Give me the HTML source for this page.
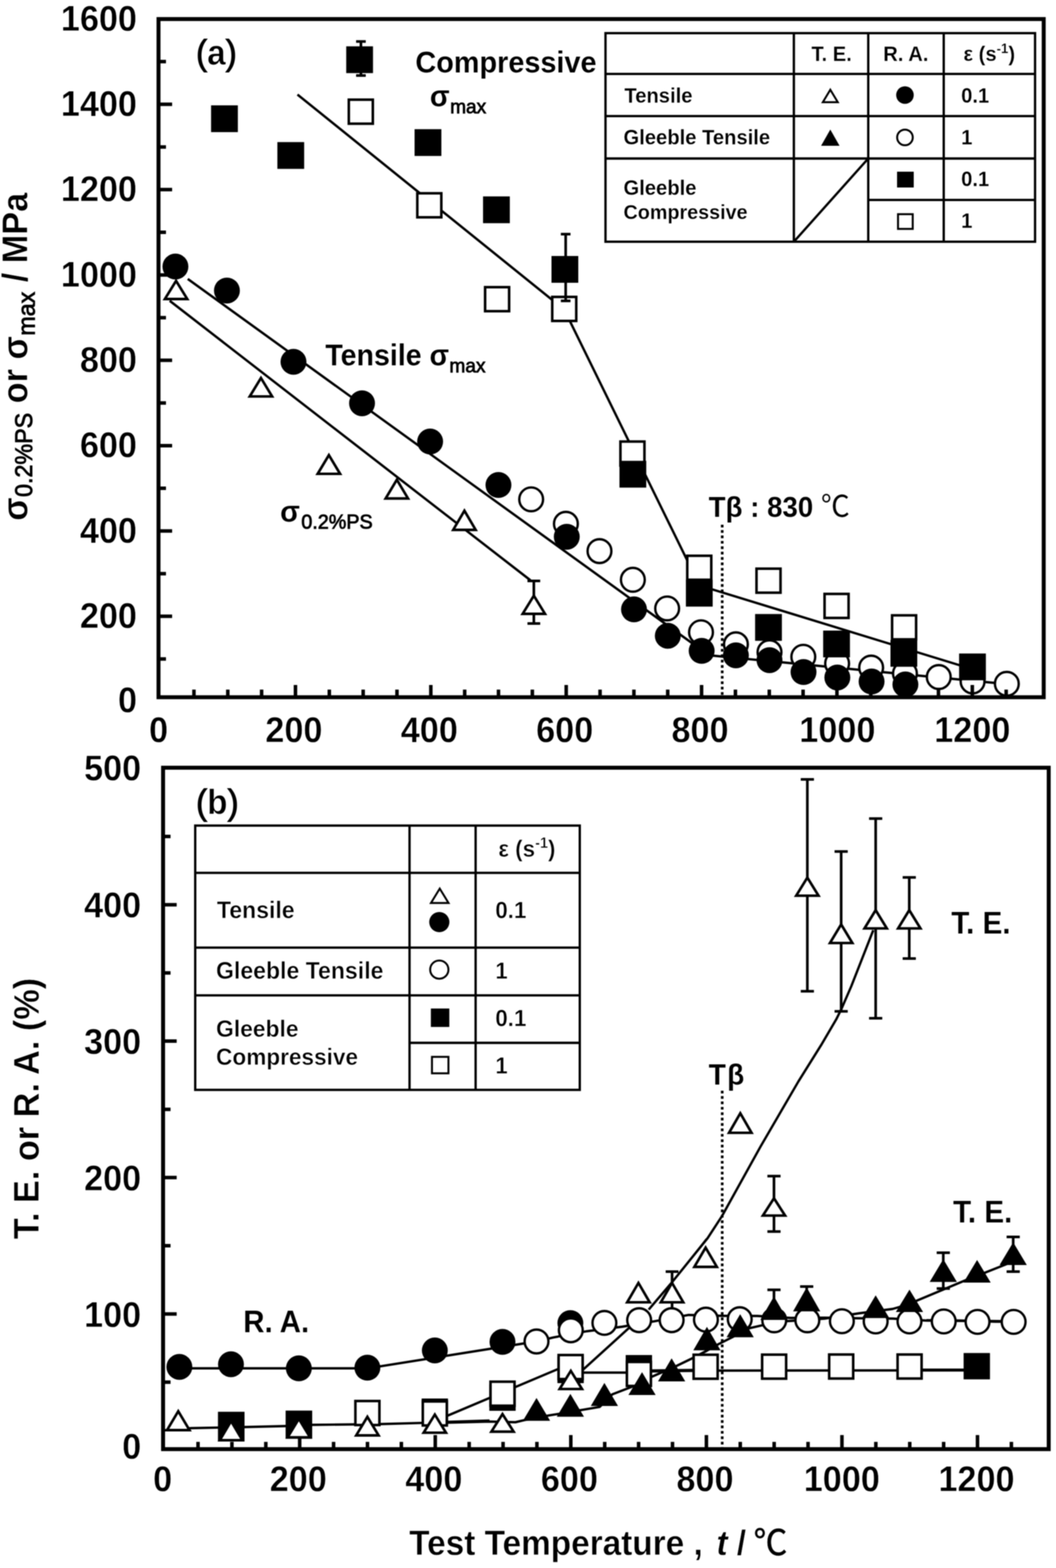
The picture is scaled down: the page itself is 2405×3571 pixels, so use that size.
<!DOCTYPE html>
<html lang="en"><head><meta charset="utf-8"><title>Figure</title>
<style>
html,body{margin:0;padding:0;background:#fff;}
body{width:2405px;height:3571px;overflow:hidden;}
svg{display:block;filter:blur(0.9px);}
svg text{font-family:"Liberation Sans", "Noto Sans CJK JP", sans-serif;font-weight:bold;fill:#000;stroke:#fff;stroke-width:0.8px;}
svg text.t{stroke-width:0.4px;}
svg text.u{stroke-width:0.8px;}
svg text.m{stroke-width:0.2px;}
svg text.r{font-weight:normal;stroke:#000;stroke-width:1.8px;}
svg tspan.bb{font-weight:bold;stroke:#fff;stroke-width:1.2px;}
svg tspan.s{font-weight:normal;stroke:#000;stroke-width:1.6px;}
svg tspan.c{stroke:#000;stroke-width:0.9px;}
svg .l{fill:none;stroke:#000;stroke-linejoin:round;}
svg .o{fill:#fff;stroke:#000;}
</style></head><body>
<svg width="2405" height="3571" viewBox="0 0 2405 3571">
<rect width="2405" height="3571" fill="#fff"/>

<g id="plot-a">
<polyline class="l" points="677.5,215.3 1285,705" stroke-width="5.4"/>
<polyline class="l" points="1285,705 1592,1331" stroke-width="5.4"/>
<polyline class="l" points="1592,1333 2214.8,1524" stroke-width="5.4"/>
<polyline class="l" points="427.6,635.2 1596,1479" stroke-width="5.4"/>
<polyline class="l" points="1596,1490.5 2293,1558" stroke-width="5.4"/>
<polyline class="l" points="386.5,685 1208,1321.5" stroke-width="5.4"/>
<line class="l" x1="1644.8" y1="1195" x2="1644.8" y2="1587.9" stroke-width="6" stroke-dasharray="6.2 6.1"/>
<text transform="translate(312 1621.5) scale(1 1.04)" font-size="78" text-anchor="end">0</text>
<text transform="translate(312 1430.1) scale(1 1.04)" font-size="78" text-anchor="end">200</text>
<text transform="translate(312 1235.8) scale(1 1.04)" font-size="78" text-anchor="end">400</text>
<text transform="translate(312 1041.4) scale(1 1.04)" font-size="78" text-anchor="end">600</text>
<text transform="translate(312 847.1) scale(1 1.04)" font-size="78" text-anchor="end">800</text>
<text transform="translate(312 652.7) scale(1 1.04)" font-size="78" text-anchor="end">1000</text>
<text transform="translate(312 458.3) scale(1 1.04)" font-size="78" text-anchor="end">1200</text>
<text transform="translate(312 264) scale(1 1.04)" font-size="78" text-anchor="end">1400</text>
<text transform="translate(312 69.6) scale(1 1.04)" font-size="78" text-anchor="end">1600</text>
<text transform="translate(361.1 1690) scale(1 1.04)" font-size="78" text-anchor="middle">0</text>
<text transform="translate(669.4 1690) scale(1 1.04)" font-size="78" text-anchor="middle">200</text>
<text transform="translate(977.7 1690) scale(1 1.04)" font-size="78" text-anchor="middle">400</text>
<text transform="translate(1286 1690) scale(1 1.04)" font-size="78" text-anchor="middle">600</text>
<text transform="translate(1594.3 1690) scale(1 1.04)" font-size="78" text-anchor="middle">800</text>
<text transform="translate(1907.1 1690) scale(1 1.04)" font-size="78" text-anchor="middle">1000</text>
<text transform="translate(2214.4 1690) scale(1 1.04)" font-size="78" text-anchor="middle">1200</text>
<path class="l" d="M1215.8 1323V1420M1201.3 1323h29M1201.3 1420h29" stroke-width="6"/>
<circle class="o" cx="1209.7" cy="1137.2" r="27.1" stroke-width="5.4"/>
<circle class="o" cx="1288.8" cy="1192.9" r="27.1" stroke-width="5.4"/>
<circle class="o" cx="1365.3" cy="1255.1" r="27.1" stroke-width="5.4"/>
<circle class="o" cx="1441.3" cy="1320.4" r="27.1" stroke-width="5.4"/>
<circle class="o" cx="1519.4" cy="1385.7" r="27.1" stroke-width="5.4"/>
<circle class="o" cx="1596.5" cy="1440" r="27.1" stroke-width="5.4"/>
<circle class="o" cx="1676" cy="1467.4" r="27.1" stroke-width="5.4"/>
<circle class="o" cx="1752.5" cy="1485.4" r="27.1" stroke-width="5.4"/>
<circle class="o" cx="1829.5" cy="1495.7" r="27.1" stroke-width="5.4"/>
<circle class="o" cx="1906.5" cy="1511.1" r="27.1" stroke-width="5.4"/>
<circle class="o" cx="1984" cy="1520.3" r="27.1" stroke-width="5.4"/>
<circle class="o" cx="2061" cy="1534" r="27.1" stroke-width="5.4"/>
<circle class="o" cx="2138" cy="1541.9" r="27.1" stroke-width="5.4"/>
<circle class="o" cx="2215" cy="1552" r="27.1" stroke-width="5.4"/>
<circle class="o" cx="2293" cy="1557.3" r="27.1" stroke-width="5.4"/>
<rect class="o" x="794.4" y="227" width="54.7" height="54.7" stroke-width="5.8"/>
<rect class="o" x="950.4" y="440.2" width="54.7" height="54.7" stroke-width="5.8"/>
<rect class="o" x="1104.8" y="654" width="54.7" height="54.7" stroke-width="5.8"/>
<rect class="o" x="1257.7" y="676.2" width="54.7" height="54.7" stroke-width="5.8"/>
<rect class="o" x="1413" y="1005.6" width="54.7" height="54.7" stroke-width="5.8"/>
<rect class="o" x="1565.2" y="1265.7" width="54.7" height="54.7" stroke-width="5.8"/>
<rect class="o" x="1722.9" y="1295.1" width="54.7" height="54.7" stroke-width="5.8"/>
<rect class="o" x="1877.9" y="1352.6" width="54.7" height="54.7" stroke-width="5.8"/>
<rect class="o" x="2031.7" y="1401.4" width="54.7" height="54.7" stroke-width="5.8"/>
<path class="l" d="M822 94.4V172M811 94.4h22M811 172h22" stroke-width="6"/>
<path class="l" d="M1288.3 533.2V685.2M1277.3 533.2h22M1277.3 685.2h22" stroke-width="6"/>
<rect x="480.7" y="239.9" width="61" height="61"/>
<rect x="631.7" y="323.6" width="61" height="61"/>
<rect x="788.5" y="105.5" width="61" height="61"/>
<rect x="944.2" y="294.2" width="61" height="61"/>
<rect x="1100.1" y="447.3" width="61" height="61"/>
<rect x="1256" y="583" width="61" height="61"/>
<rect x="1410.8" y="1049.5" width="61" height="61"/>
<rect x="1562.1" y="1320.5" width="61" height="61"/>
<rect x="1719.7" y="1398.4" width="61" height="61"/>
<rect x="1874.7" y="1436.1" width="61" height="61"/>
<rect x="2028" y="1457.5" width="61" height="61"/>
<rect x="2184.3" y="1488.3" width="61" height="61"/>
<circle cx="399.5" cy="607.1" r="29.5"/>
<circle cx="516.8" cy="661.7" r="29.5"/>
<circle cx="668.4" cy="824" r="29.5"/>
<circle cx="824.5" cy="918.4" r="29.5"/>
<circle cx="979.6" cy="1005.6" r="29.5"/>
<circle cx="1135.2" cy="1104.6" r="29.5"/>
<circle cx="1290.8" cy="1222.4" r="29.5"/>
<circle cx="1443.9" cy="1387.8" r="29.5"/>
<circle cx="1520.9" cy="1448" r="29.5"/>
<circle cx="1598" cy="1482.3" r="29.5"/>
<circle cx="1676" cy="1492.5" r="29.5"/>
<circle cx="1752.5" cy="1503.4" r="29.5"/>
<circle cx="1830" cy="1530.6" r="29.5"/>
<circle cx="1907" cy="1542.9" r="29.5"/>
<circle cx="1985" cy="1552.1" r="29.5"/>
<circle cx="2062" cy="1558.8" r="29.5"/>
<path d="M401 634L431.8 684H370.2Z"/><path fill="#fff" d="M401 645.3L421.2 678.1H380.8Z"/>
<path d="M594.3 855.2L625 905.8H563.5Z"/><path fill="#fff" d="M594.3 866.6L614.6 899.9H574Z"/>
<path d="M749 1030.7L779.8 1082.1H718.2Z"/><path fill="#fff" d="M749 1042.2L769.3 1076.2H728.7Z"/>
<path d="M903.8 1086.8L934.5 1138.2H873Z"/><path fill="#fff" d="M903.8 1098.3L924.1 1132.3H883.5Z"/>
<path d="M1057.7 1157.2L1088.5 1209.7H1027Z"/><path fill="#fff" d="M1057.7 1168.9L1078.2 1203.8H1037.2Z"/>
<path d="M1215.8 1351.1L1246.5 1401H1185Z"/><path fill="#fff" d="M1215.8 1362.3L1236 1395.1H1195.6Z"/>
<rect class="l" x="361" y="43.4" width="2016" height="1544.5" stroke-width="9" style="stroke-linejoin:miter"/>
<path class="l" d="M441.7 1587.9v-17.5M518.8 1587.9v-17.5M595.8 1587.9v-17.5M672.9 1587.9v-28M750 1587.9v-17.5M827.1 1587.9v-17.5M904.1 1587.9v-17.5M981.2 1587.9v-28M1058.3 1587.9v-17.5M1135.3 1587.9v-17.5M1212.4 1587.9v-17.5M1289.5 1587.9v-28M1366.6 1587.9v-17.5M1443.7 1587.9v-17.5M1520.7 1587.9v-17.5M1597.8 1587.9v-28M1674.9 1587.9v-17.5M1752 1587.9v-17.5M1829 1587.9v-17.5M1906.1 1587.9v-28M1983.2 1587.9v-17.5M2060.2 1587.9v-17.5M2137.3 1587.9v-17.5M2214.4 1587.9v-28M2291.5 1587.9v-17.5M361 1500.8h17M361 1403.6h31M361 1306.5h17M361 1209.3h31M361 1112.1h17M361 1014.9h31M361 917.7h17M361 820.6h31M361 723.4h17M361 626.2h31M361 529h17M361 431.8h31M361 334.7h17M361 237.5h31M361 140.3h17" stroke-width="8"/>
<text transform="translate(446.5 147) scale(1 1.04)" font-size="76" class="r">(<tspan class="bb">a</tspan>)</text>
<text transform="translate(946 165) scale(1 1.04)" font-size="65.7" class="m">Compressive</text>
<text transform="translate(979 242) scale(1 1.04)" font-size="66" class="m">σ<tspan class="s" font-size="43.5" dy="15" dx="1">max</tspan></text>
<text transform="translate(741 832) scale(1 1.04)" font-size="65" class="m">Tensile σ<tspan class="s" font-size="43.5" dy="15" dx="1">max</tspan></text>
<text transform="translate(638 1188) scale(1 1.04)" font-size="66" class="m">σ<tspan class="s" font-size="45" dy="15" dx="3">0.2%PS</tspan></text>
<text transform="translate(1614 1177) scale(1 1.04)" font-size="63" class="m">Tβ : 830 <tspan font-weight="normal" font-size="66">℃</tspan></text>
<text transform="translate(62 1186) rotate(-90) scale(1 1.04)" font-size="78">σ<tspan class="s" font-size="53" dy="11" dx="1">0.2%PS</tspan><tspan dy="-11"> or σ</tspan><tspan class="s" font-size="53" dy="16" dx="1">max</tspan><tspan dy="-16"> / MPa</tspan></text>
<rect class="o" x="1379" y="75.5" width="978.3" height="475" stroke-width="5.3"/>
<path class="l" d="M1379 168.4H2357.3M1379 264.4H2357.3M1379 361H2357.3M1977.4 455.4H2357.3M1808 75.5V550.5M1977.4 75.5V550.5M2149.3 75.5V550.5M1808 550.5L1977.4 361" stroke-width="5.3"/>
<text transform="translate(1422 233.5) scale(1 1.04)" font-size="46" class="t">Tensile</text>
<text transform="translate(1420 329) scale(1 1.04)" font-size="46" class="t">Gleeble Tensile</text>
<text transform="translate(1420 444) scale(1 1.04)" font-size="46" class="t">Gleeble</text>
<text transform="translate(1420 499) scale(1 1.04)" font-size="45" class="t">Compressive</text>
<text transform="translate(1894 138.5) scale(1 1.04)" font-size="46" text-anchor="middle" class="t">T. E.</text>
<text transform="translate(2063 138.5) scale(1 1.04)" font-size="46" text-anchor="middle" class="t">R. A.</text>
<text transform="translate(2253 138.5) scale(1 1.04)" font-size="46" text-anchor="middle" class="t">ε (s<tspan font-size="30" dy="-17">-1</tspan><tspan dy="17">)</tspan></text>
<text transform="translate(2189 233.5) scale(1 1.04)" font-size="46" class="t">0.1</text>
<text transform="translate(2189 329) scale(1 1.04)" font-size="46" class="t">1</text>
<text transform="translate(2189 424) scale(1 1.04)" font-size="46" class="t">0.1</text>
<text transform="translate(2189 519) scale(1 1.04)" font-size="46" class="t">1</text>
<path d="M1891 200L1912 235H1870Z"/><path fill="#fff" d="M1891 208.7L1904.1 230.5H1877.9Z"/>
<circle cx="2061" cy="216.5" r="20"/>
<path d="M1891 295L1912 332H1870Z"/>
<circle class="o" cx="2061" cy="313" r="17.8" stroke-width="4.5"/>
<rect x="2043" y="391" width="38" height="36"/>
<rect class="o" x="2045.2" y="487.8" width="33.5" height="33.5" stroke-width="4.5"/>
</g>
<g id="plot-b">
<polyline class="l" points="409,3116.3 836.7,3116.3 1221.9,3055 1260.6,3045.8 1337.1,3031.7 1416.8,3021.5 1491.8,3008.8 1568.3,2994.7 1646.4,2996.7 1725,2997 1801,3001.5 1878,3001 1956,3002.3 2033,3003 2110,3007.5 2188,3007.5 2267,3010 2308,3010" stroke-width="5.4"/>
<polyline class="l" points="371,3257.5 406,3256 435,3252.5 557,3250 651,3247.7 711,3245 865.5,3243.2 960.2,3240.6 1019.2,3240 1114.8,3237.5 1173.8,3239 1194.5,3234.2 1251,3223.4 1271.7,3220.2 1299,3215.4 1327.6,3210.6 1365.8,3204.2 1394.5,3175.5 1436,3159.6 1462,3148 1483.8,3135.7 1506.1,3126.1 1530,3116 1579.5,3092 1610,3076 1636,3061.3 1668.2,3045.2 1700.4,3026.4 1735.2,3018.4 1763,3010 1801,3008.2 1878,3003 1956,2991 2033,2981 2071,2970 2087.7,2962.3 2198.1,2916.1 2225,2905 2244.3,2898.1 2282.8,2882.7 2307,2873" stroke-width="5.4"/>
<polyline class="l" points="1019.2,3237.5 1114.8,3234.5" stroke-width="4"/>
<polyline class="l" points="990,3236.5 1300,3105.5" stroke-width="5.4"/>
<polyline class="l" points="1300,3126 1455,3126 1484,3123 1607,3121.5 2224,3120.7" stroke-width="5.4"/>
<polyline class="l" points="1484,3122 1607,3120.5" stroke-width="7"/>
<polyline class="l" points="2071,3120 2224,3120" stroke-width="6.5"/>
<polyline class="l" points="2110,3007 2308,3009.5" stroke-width="6"/>
<polyline class="l" points="1300,3145 1329.1,3118.2 1432.8,3024.1 1455,3004" stroke-width="5.4"/>
<line class="l" x1="1644.8" y1="2484" x2="1644.8" y2="3300.3" stroke-width="6" stroke-dasharray="6.2 6.1"/>
<text transform="translate(321.5 3322.2) scale(1 1.04)" font-size="78" text-anchor="end">0</text>
<text transform="translate(321.5 3021.5) scale(1 1.04)" font-size="78" text-anchor="end">100</text>
<text transform="translate(321.5 2710.8) scale(1 1.04)" font-size="78" text-anchor="end">200</text>
<text transform="translate(321.5 2400.1) scale(1 1.04)" font-size="78" text-anchor="end">300</text>
<text transform="translate(321.5 2089.4) scale(1 1.04)" font-size="78" text-anchor="end">400</text>
<text transform="translate(321.5 1776.7) scale(1 1.04)" font-size="78" text-anchor="end">500</text>
<text transform="translate(370.5 3396) scale(1 1.04)" font-size="78" text-anchor="middle">0</text>
<text transform="translate(679.2 3396) scale(1 1.04)" font-size="78" text-anchor="middle">200</text>
<text transform="translate(988 3396) scale(1 1.04)" font-size="78" text-anchor="middle">400</text>
<text transform="translate(1296.7 3396) scale(1 1.04)" font-size="78" text-anchor="middle">600</text>
<text transform="translate(1605.5 3396) scale(1 1.04)" font-size="78" text-anchor="middle">800</text>
<text transform="translate(1917.2 3396) scale(1 1.04)" font-size="78" text-anchor="middle">1000</text>
<text transform="translate(2223.9 3396) scale(1 1.04)" font-size="78" text-anchor="middle">1200</text>
<path class="l" d="M451 3300.3v-16.5M528.2 3300.3v-16.5M605.4 3300.3v-16.5M682.5 3300.3v-32M759.7 3300.3v-16.5M836.9 3300.3v-16.5M914.1 3300.3v-16.5M991.3 3300.3v-32M1068.5 3300.3v-16.5M1145.7 3300.3v-16.5M1222.8 3300.3v-16.5M1300 3300.3v-32M1377.2 3300.3v-16.5M1454.4 3300.3v-16.5M1531.6 3300.3v-16.5M1608.8 3300.3v-32M1685.9 3300.3v-16.5M1763.1 3300.3v-16.5M1840.3 3300.3v-16.5M1917.5 3300.3v-32M1994.7 3300.3v-16.5M2071.9 3300.3v-16.5M2149.1 3300.3v-16.5M2226.2 3300.3v-32M2303.4 3300.3v-16.5M371.4 3147.8h17M371.4 2992.5h31M371.4 2837.1h17M371.4 2681.8h31M371.4 2526.4h17M371.4 2371.1h31M371.4 2215.8h17M371.4 2060.4h31M371.4 1905h17" stroke-width="8"/>
<path class="l" d="M1530.6 2896V2986M1516.1 2896h29" stroke-width="6"/>
<path class="l" d="M1762.7 2678.4V2804.7M1747.7 2678.4h30M1747.7 2804.7h30" stroke-width="6"/>
<path class="l" d="M1838.7 1774.9V2257.5M1823.7 1774.9h30M1823.7 2257.5h30" stroke-width="6"/>
<path class="l" d="M1915.7 1939.2V2303.2M1900.7 1939.2h30M1900.7 2303.2h30" stroke-width="6"/>
<path class="l" d="M1994.3 1864.2V2319.1M1979.3 1864.2h30M1979.3 2319.1h30" stroke-width="6"/>
<path class="l" d="M2070.8 1998.2V2183M2055.8 1998.2h30M2055.8 2183h30" stroke-width="6"/>
<path class="l" d="M1762.7 2937.6V2990M1747.7 2937.6h30" stroke-width="6"/>
<path class="l" d="M1837.2 2929.9V2980M1822.2 2929.9h30" stroke-width="6"/>
<path class="l" d="M2148.3 2852.9V2934.5M2133.3 2852.9h30M2133.3 2934.5h30" stroke-width="6"/>
<path class="l" d="M2307.5 2816.9V2896M2292.5 2816.9h30M2292.5 2896h30" stroke-width="6"/>
<rect x="496.4" y="3215.2" width="60.5" height="67.5"/>
<rect x="650.5" y="3212.5" width="60.5" height="64"/>
<rect x="960.3" y="3185" width="60" height="60"/>
<rect x="1114.4" y="3153" width="60" height="60"/>
<rect x="1269.5" y="3090" width="60" height="60"/>
<rect x="1425" y="3086" width="60" height="60"/>
<rect x="2194.6" y="3081.4" width="60" height="60"/>
<circle cx="408.5" cy="3113" r="29.5"/>
<circle cx="526" cy="3107" r="29.5"/>
<circle cx="680.6" cy="3116.3" r="29.5"/>
<circle cx="836.7" cy="3114.8" r="29.5"/>
<circle cx="990.3" cy="3075.5" r="29.5"/>
<circle cx="1144.4" cy="3056.1" r="29.5"/>
<circle cx="1299" cy="3013.3" r="29.5"/>
<rect class="o" x="809.4" y="3190.7" width="54.7" height="54.7" stroke-width="5.8"/>
<rect class="o" x="962.9" y="3191.7" width="54.7" height="54.7" stroke-width="5.8"/>
<rect class="o" x="1117.1" y="3146.7" width="54.7" height="54.7" stroke-width="5.8"/>
<rect class="o" x="1272.2" y="3086" width="54.7" height="54.7" stroke-width="5.8"/>
<rect class="o" x="1427.7" y="3101.7" width="54.7" height="54.7" stroke-width="5.8"/>
<rect class="o" x="1579.7" y="3085.3" width="54.7" height="54.7" stroke-width="5.8"/>
<rect class="o" x="1735.7" y="3085.1" width="54.7" height="54.7" stroke-width="5.8"/>
<rect class="o" x="1888.4" y="3084.8" width="54.7" height="54.7" stroke-width="5.8"/>
<rect class="o" x="2044.2" y="3084.8" width="54.7" height="54.7" stroke-width="5.8"/>
<circle class="o" cx="1221.9" cy="3055.1" r="27.1" stroke-width="5.4"/>
<circle class="o" cx="1300" cy="3029.6" r="27.1" stroke-width="5.4"/>
<circle class="o" cx="1376.5" cy="3012.8" r="27.1" stroke-width="5.4"/>
<circle class="o" cx="1455.6" cy="3006.6" r="27.1" stroke-width="5.4"/>
<circle class="o" cx="1529.6" cy="3006.6" r="27.1" stroke-width="5.4"/>
<circle class="o" cx="1607.7" cy="3005.4" r="27.1" stroke-width="5.4"/>
<circle class="o" cx="1684.7" cy="3004.3" r="27.1" stroke-width="5.4"/>
<circle class="o" cx="1763.3" cy="3006.9" r="27.1" stroke-width="5.4"/>
<circle class="o" cx="1838.7" cy="3006.9" r="27.1" stroke-width="5.4"/>
<circle class="o" cx="1917.3" cy="3009" r="27.1" stroke-width="5.4"/>
<circle class="o" cx="1994.3" cy="3009.5" r="27.1" stroke-width="5.4"/>
<circle class="o" cx="2071.3" cy="3009.5" r="27.1" stroke-width="5.4"/>
<circle class="o" cx="2149.3" cy="3009.5" r="27.1" stroke-width="5.4"/>
<circle class="o" cx="2226.3" cy="3010.5" r="27.1" stroke-width="5.4"/>
<circle class="o" cx="2308.5" cy="3010.5" r="27.1" stroke-width="5.4"/>
<path d="M406 3208.2L436.8 3260H375.2Z"/><path fill="#fff" d="M406 3219.8L426.4 3254.1H385.6Z"/>
<path d="M526.3 3230.5L557 3283H495.5Z"/><path fill="#fff" d="M526.3 3242.2L546.8 3277.1H505.8Z"/>
<path d="M680.6 3225.5L711.4 3276.5H649.9Z"/><path fill="#fff" d="M680.6 3236.9L700.9 3270.6H660.3Z"/>
<path d="M836.7 3221L867.5 3271.9H806Z"/><path fill="#fff" d="M836.7 3232.4L857 3266H816.4Z"/>
<path d="M990.3 3215.9L1021 3265.8H959.5Z"/><path fill="#fff" d="M990.3 3227.1L1010.5 3259.9H970.1Z"/>
<path d="M1144.4 3215L1175.2 3263.5H1113.7Z"/><path fill="#fff" d="M1144.4 3226L1164.4 3257.6H1124.4Z"/>
<path d="M1300 3116.4L1330.8 3166.3H1269.2Z"/><path fill="#fff" d="M1300 3127.6L1320.2 3160.4H1279.8Z"/>
<path d="M1454 2915.9L1484.8 2968.8H1423.2Z"/><path fill="#fff" d="M1454 2927.6L1474.5 2962.9H1433.5Z"/>
<path d="M1530.6 2915.9L1561.3 2968.8H1499.8Z"/><path fill="#fff" d="M1530.6 2927.6L1551.1 2962.9H1510.1Z"/>
<path d="M1607 2835.5L1637.8 2888.2H1576.2Z"/><path fill="#fff" d="M1607 2847.2L1627.5 2882.3H1586.5Z"/>
<path d="M1686 2529.5L1716.8 2582.8H1655.2Z"/><path fill="#fff" d="M1686 2541.3L1706.5 2576.9H1665.5Z"/>
<path d="M1762.7 2723.6L1793.5 2771.3H1732Z"/><path fill="#fff" d="M1762.7 2734.5L1782.6 2765.4H1742.8Z"/>
<path d="M1838.7 1993.1L1869.5 2042.8H1808Z"/><path fill="#fff" d="M1838.7 2004.3L1858.9 2036.9H1818.5Z"/>
<path d="M1915.7 2099.4L1946.5 2150.6H1885Z"/><path fill="#fff" d="M1915.7 2110.9L1936 2144.7H1895.4Z"/>
<path d="M1994.3 2067.1L2025 2117.3H1963.5Z"/><path fill="#fff" d="M1994.3 2078.4L2014.5 2111.4H1974.1Z"/>
<path d="M2070.8 2067.1L2101.6 2117.3H2040.1Z"/><path fill="#fff" d="M2070.8 2078.4L2091 2111.4H2050.6Z"/>
<polyline class="l" points="1477.4,2982.6 1531.6,2918.9 1611.4,2820 1644.4,2769.4 1732.2,2611 1818.3,2463 1870,2380.3 1904.4,2321.7 1916.4,2297.6 1938.8,2246 1988.8,2118.5" stroke-width="5.4"/>
<polyline class="l" points="1502.9,2955 1608.2,2821" stroke-width="2.2"/>
<path d="M1221.9 3183.7L1252.9 3235.7H1190.9Z"/>
<path d="M1299 3174.5L1330 3226.5H1268Z"/>
<path d="M1376.5 3149.5L1407.5 3202H1345.5Z"/>
<path d="M1462.2 3125L1493.2 3177H1431.2Z"/>
<path d="M1529.6 3093.4L1560.6 3145.9H1498.6Z"/>
<path d="M1610 3021.8L1641 3075.2H1579Z"/>
<path d="M1685.7 2993L1716.7 3045.5H1654.7Z"/>
<path d="M1762.7 2952.5L1793.7 3005.9H1731.7Z"/>
<path d="M1837.2 2932L1868.2 2986.5H1806.2Z"/>
<path d="M1994.3 2950L2025.3 3001.8H1963.3Z"/>
<path d="M2071.3 2937.1L2102.3 2987.9H2040.3Z"/>
<path d="M2148.3 2867.8L2179.3 2919.6H2117.3Z"/>
<path d="M2225.3 2869.4L2256.3 2921.1H2194.3Z"/>
<path d="M2307.5 2829.3L2338.5 2881.1H2276.5Z"/>
<rect class="l" x="371.4" y="1748.4" width="2017" height="1551.9" stroke-width="9" style="stroke-linejoin:miter"/>
<text transform="translate(446.5 1854) scale(1 1.04)" font-size="76" class="r">(<tspan class="bb">b</tspan>)</text>
<text transform="translate(554 3034) scale(1 1.04)" font-size="67" class="m">R. A.</text>
<text transform="translate(2166.5 2125.5) scale(1 1.04)" font-size="67.5" class="m">T. E.</text>
<text transform="translate(2170.5 2784) scale(1 1.04)" font-size="67.5" class="m">T. E.</text>
<text transform="translate(1614 2470) scale(1 1.04)" font-size="64" class="m" letter-spacing="3">Tβ</text>
<text transform="translate(88 2822) rotate(-90) scale(1 1.04)" font-size="78">T. E. or R. A. (%)</text>
<text transform="translate(932 3541) scale(1 1.04)" font-size="76">Test Temperature , <tspan font-style="italic" dx="10">t</tspan> / <tspan font-weight="normal" font-size="77" dx="-4" class="c">℃</tspan></text>
<rect class="o" x="444.6" y="1880.2" width="875.8" height="601.9" stroke-width="5.3"/>
<path class="l" d="M444.6 1987.8H1320.4M444.6 2158.2H1320.4M444.6 2266.8H1320.4M932.7 2375H1320.4M932.7 1880.2V2482.1M1083.2 1880.2V2482.1" stroke-width="5.3"/>
<text transform="translate(494 2090.5) scale(1 1.04)" font-size="52.5" class="u">Tensile</text>
<text transform="translate(492 2229) scale(1 1.04)" font-size="52.5" class="u">Gleeble Tensile</text>
<text transform="translate(492 2361) scale(1 1.04)" font-size="52" class="u">Gleeble</text>
<text transform="translate(492 2425) scale(1 1.04)" font-size="51.5" class="u">Compressive</text>
<text transform="translate(1200 1951) scale(1 1.04)" font-size="51" text-anchor="middle" class="u">ε (s<tspan font-size="33" dy="-19">-1</tspan><tspan dy="19">)</tspan></text>
<text transform="translate(1128 2090.5) scale(1 1.04)" font-size="51" class="u">0.1</text>
<text transform="translate(1128 2229) scale(1 1.04)" font-size="51" class="u">1</text>
<text transform="translate(1128 2337) scale(1 1.04)" font-size="51" class="u">0.1</text>
<text transform="translate(1128 2445) scale(1 1.04)" font-size="51" class="u">1</text>
<path d="M1001.5 2019.4L1025.5 2058.7H977.5Z"/><path fill="#fff" d="M1001.5 2028L1017.5 2054.2H985.5Z"/>
<circle cx="1000.5" cy="2100" r="23"/>
<circle class="o" cx="1000.5" cy="2208.2" r="20.8" stroke-width="4.5"/>
<rect x="981.3" y="2296.8" width="42" height="42"/>
<rect class="o" x="983.8" y="2406.9" width="37.5" height="37.5" stroke-width="4.5"/>
</g>
</svg>
</body></html>
